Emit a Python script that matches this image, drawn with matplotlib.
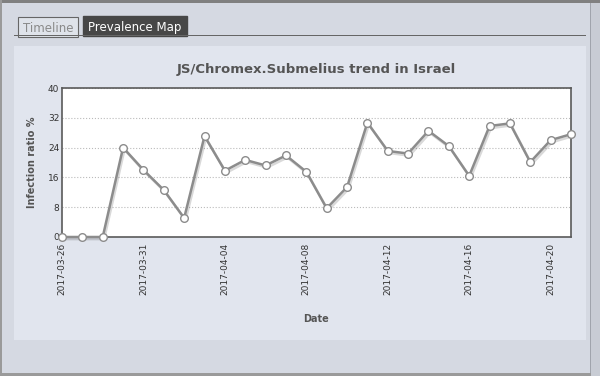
import matplotlib
matplotlib.use("Agg")
import matplotlib.pyplot as plt
from matplotlib.patches import Rectangle
import matplotlib.patheffects as pe

# data
dates = ["2017-03-26", "2017-03-27", "2017-03-29", "2017-03-30", "2017-03-31",
         "2017-04-01", "2017-04-02", "2017-04-03", "2017-04-04", "2017-04-05",
         "2017-04-06", "2017-04-07", "2017-04-08", "2017-04-09", "2017-04-10",
         "2017-04-11", "2017-04-12", "2017-04-13", "2017-04-14", "2017-04-15",
         "2017-04-16", "2017-04-17", "2017-04-18", "2017-04-19", "2017-04-20",
         "2017-04-21"]
ratio = [0, 0, 0, 24.0, 18.0, 12.6, 5.1, 27.1, 17.8, 20.7, 19.2, 21.9, 17.5,
         7.7, 13.4, 30.7, 23.1, 22.4, 28.5, 24.4, 16.4, 29.8, 30.5, 20.1,
         26.0, 27.6]
yticks = [0, 8, 16, 24, 32, 40]

W, H = 600, 376
fig = plt.figure(figsize=(6, 3.76), dpi=100)
fig.patch.set_facecolor("#d5d9e2")

def px(x, y, w, h):
    # pixel box (from top-left) -> figure fraction
    return (x / W, 1 - (y + h) / H, w / W, h / H)

def rect(x, y, w, h, **kw):
    fig.patches.append(Rectangle(px(x, y, w, h)[:2], w / W, h / H,
                                 transform=fig.transFigure, zorder=-5, **kw))

# window frame
rect(0, 0, 600, 3, facecolor="#808080", edgecolor="none")
rect(0, 0, 2, 376, facecolor="#9a9a9a", edgecolor="none")
rect(0, 373, 600, 3, facecolor="#9a9a9a", edgecolor="none")
rect(591, 3, 9, 373, facecolor="#c8ccd4", edgecolor="none")
rect(590, 3, 1, 370, facecolor="#a0a4ac", edgecolor="none")

# tabs
rect(18, 17, 60, 20, facecolor="#dfe3ea", edgecolor="#666666", linewidth=0.8)
rect(83, 16, 104, 20, facecolor="#474747", edgecolor="#474747")
rect(14, 35, 572, 1, facecolor="#666666", edgecolor="none")
fig.text(48 / W, 1 - 28 / H, "Timeline", ha="center", va="center",
         fontsize=8.5, color="#8a8a8a")
fig.text(135 / W, 1 - 27 / H, "Prevalence Map", ha="center", va="center",
         fontsize=8.5, color="white")

# inner panel
rect(14, 46, 572, 294, facecolor="#e1e5ee", edgecolor="none")

fig.text(316 / W, 1 - 69 / H, "JS/Chromex.Submelius trend in Israel",
         ha="center", va="center", fontsize=9.5, fontweight="bold",
         color="#555555")

ax = fig.add_axes(px(62, 88, 509, 149))
ax.set_zorder(10)
ax.set_facecolor("white")
for s in ax.spines.values():
    s.set_color("#5a5a5a")
    s.set_linewidth(1.2)

x = list(range(len(dates)))
ax.plot(x, ratio, color="#8c8c8c", linewidth=1.8, clip_on=False, zorder=3,
        path_effects=[pe.SimpleLineShadow(offset=(1, -1.5), alpha=0.15,
                                          shadow_color="black"),
                      pe.Normal()])
ax.plot(x, ratio, linestyle="none", marker="o", markersize=5.5,
        markerfacecolor="white", markeredgecolor="#8c8c8c",
        markeredgewidth=1, clip_on=False, zorder=4)

ax.set_xlim(0, len(dates) - 1)
ax.set_ylim(0, 40)
ax.set_yticks(yticks)
ax.set_xticks(x[::4])
ax.set_xticklabels(dates[::4], rotation=90)
ax.tick_params(axis="both", length=0, labelsize=6.5, colors="#333333")
ax.tick_params(axis="x", pad=4)
ax.tick_params(axis="y", pad=2)
ax.grid(axis="y", linestyle=":", color="#bbbbbb", linewidth=0.8)
ax.set_axisbelow(True)

ax.set_ylabel("Infection ratio %", fontsize=7, fontweight="bold",
              color="#555555", labelpad=8)
ax.set_xlabel("Date", fontsize=7, fontweight="bold", color="#555555",
              labelpad=14)

fig.savefig("out.png", dpi=100, facecolor=fig.get_facecolor())
